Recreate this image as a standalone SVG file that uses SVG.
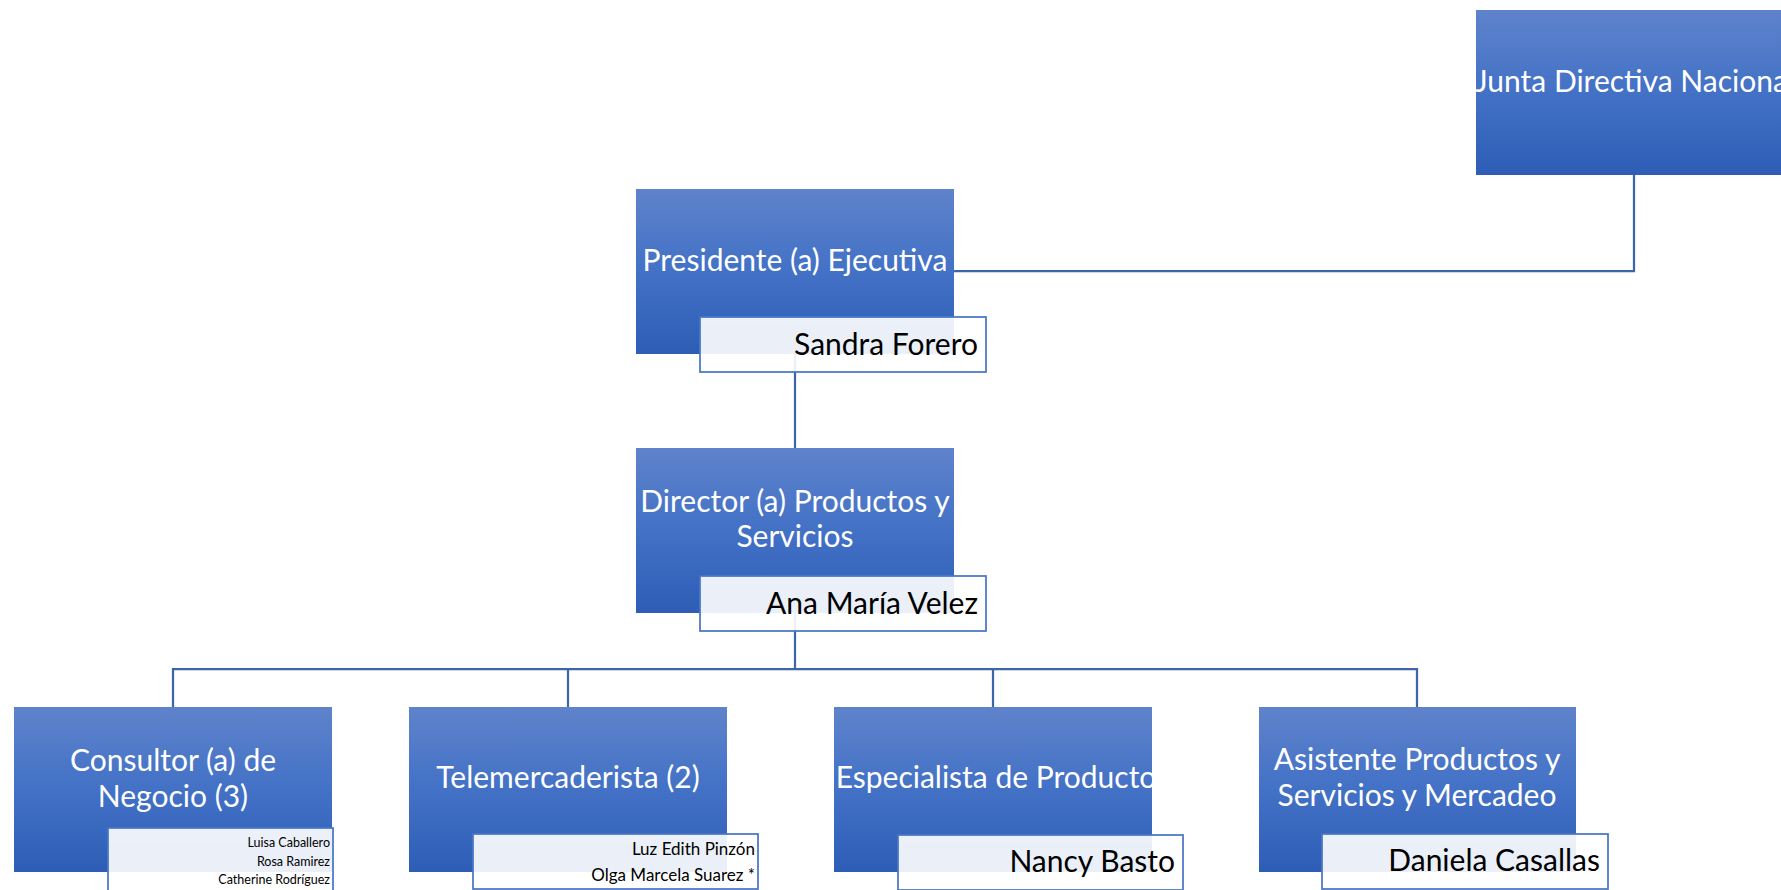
<svg xmlns="http://www.w3.org/2000/svg" width="1781" height="890" viewBox="0 0 1781 890">
<defs>
<linearGradient id="g" x1="0" y1="0" x2="0" y2="1">
<stop offset="0" stop-color="#5F83CB"/>
<stop offset="0.5" stop-color="#4271C6"/>
<stop offset="1" stop-color="#2E5DB6"/>
</linearGradient>
</defs>
<style>
.box{fill:url(#g);}
.name{fill:#FFFFFF;fill-opacity:0.9;stroke:#4A76C6;stroke-width:1.75;}
.t{font-family:Lato,"Liberation Sans",sans-serif;font-size:30px;fill:#FFFFFF;text-anchor:middle;}
.n{font-family:Lato,"Liberation Sans",sans-serif;font-size:30px;fill:#000000;text-anchor:end;}
.s{font-family:Lato,"Liberation Sans",sans-serif;font-size:17px;fill:#000000;text-anchor:end;}
.xs{font-family:Lato,"Liberation Sans",sans-serif;font-size:12.5px;fill:#000000;text-anchor:end;}
.c{fill:none;stroke:#3D65AA;stroke-width:2.25;}
</style>
<rect width="1781" height="890" fill="#FFFFFF"/>
<g id="connectors">
<path class="c" d="M954,271 H1634 V175"/>
<path class="c" d="M795,354 V448"/>
<path class="c" d="M795,613 V669"/>
<path class="c" d="M173,707 V669 H1417 V707"/>
<path class="c" d="M568,669 V707"/>
<path class="c" d="M993,669 V707"/>
</g>
<g id="junta">
<rect class="box" x="1476" y="10" width="318" height="165"/>
<text class="t" x="1635" y="92">Junta Directiva Nacional</text>
</g>
<g id="presidente">
<rect class="box" x="636" y="189" width="318" height="165"/>
<text class="t" x="795" y="271">Presidente (a) Ejecutiva</text>
<rect class="name" x="700" y="317" width="286" height="55"/>
<text class="n" x="978" y="355">Sandra Forero</text>
</g>
<g id="director">
<rect class="box" x="636" y="448" width="318" height="165"/>
<text class="t" x="795" y="512">Director (a) Productos y</text>
<text class="t" x="795" y="547">Servicios</text>
<rect class="name" x="700" y="576" width="286" height="55"/>
<text class="n" x="978" y="614">Ana María Velez</text>
</g>
<g id="consultor">
<rect class="box" x="14" y="707" width="318" height="165"/>
<text class="t" x="173" y="771">Consultor (a) de</text>
<text class="t" x="173" y="807">Negocio (3)</text>
<rect class="name" x="108" y="828" width="225" height="70"/>
<text class="xs" x="330" y="847">Luisa Caballero</text>
<text class="xs" x="330" y="866">Rosa Ramirez</text>
<text class="xs" x="330" y="884">Catherine Rodríguez</text>
</g>
<g id="telemercaderista">
<rect class="box" x="409" y="707" width="318" height="165"/>
<text class="t" x="568" y="788">Telemercaderista (2)</text>
<rect class="name" x="473" y="834" width="285" height="55"/>
<text class="s" x="755" y="855">Luz Edith Pinzón</text>
<text class="s" x="755" y="881">Olga Marcela Suarez *</text>
</g>
<g id="especialista">
<rect class="box" x="834" y="707" width="318" height="165"/>
<text class="t" x="996" y="788">Especialista de Producto</text>
<rect class="name" x="898" y="835" width="285" height="55"/>
<text class="n" x="1175" y="872">Nancy Basto</text>
</g>
<g id="asistente">
<rect class="box" x="1259" y="707" width="317" height="165"/>
<text class="t" x="1417" y="770">Asistente Productos y</text>
<text class="t" x="1417" y="806">Servicios y Mercadeo</text>
<rect class="name" x="1322" y="834" width="286" height="55"/>
<text class="n" x="1600" y="871">Daniela Casallas</text>
</g>
</svg>
